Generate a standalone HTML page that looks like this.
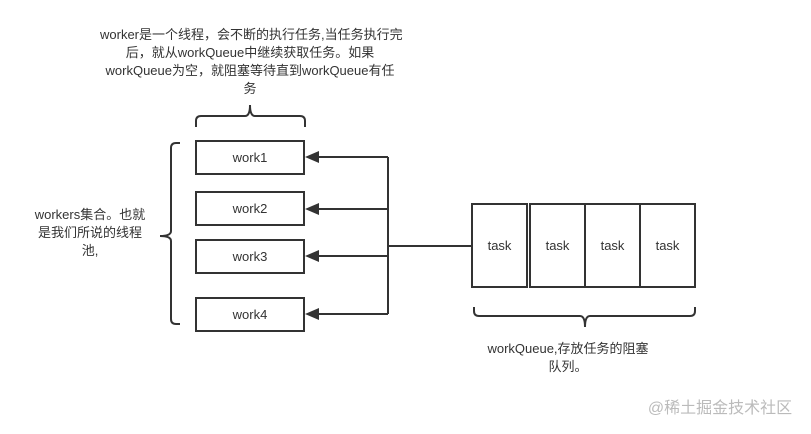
<!DOCTYPE html>
<html><head><meta charset="utf-8"><style>
body{margin:0;width:811px;height:434px;background:#fff;position:relative;overflow:hidden;font-family:"Liberation Sans","Noto Sans CJK SC",sans-serif;color:#333}
.t{position:absolute;font-size:13px;line-height:18px;text-align:center;white-space:nowrap}
.b{position:absolute;border:2px solid #333;box-sizing:border-box;background:#fff;display:flex;align-items:center;justify-content:center;font-size:13px}
</style></head><body>
<div class="t" style="left:100px;top:26px;width:300px">worker是一个线程，会不断的执行任务,当任务执行完<br>后，就从workQueue中继续获取任务。如果<br>workQueue为空，就阻塞等待直到workQueue有任<br>务</div>
<div class="t" style="left:20px;top:206px;width:140px">workers集合。也就<br>是我们所说的线程<br>池,</div>
<div class="t" style="left:468px;top:340px;width:200px">workQueue,存放任务的阻塞<br>队列。</div>
<div class="t" style="left:640px;top:400px;width:160px;font-size:16px;color:#bbb">@稀土掘金技术社区</div>
<svg width="811" height="434" style="position:absolute;left:0;top:0" fill="none" stroke="#333" stroke-width="2">
<path d="M196 127 v-6 q0-5 5-5 h44 q5 0 5-11 q0 11 5 11 h45 q5 0 5 5 v6"/>
<path d="M180 143 h-4 q-5 0-5 5 v83 q0 5-11 5 q11 0 11 5 v78 q0 5 5 5 h4"/>
<path d="M474 307 v4 q0 5 5 5 h101 q5 0 5 11 q0-11 5-11 h100 q5 0 5-5 v-4"/>
<path d="M388 157 V314 M388 246 H472 M388 157 H318 M388 209 H318 M388 256 H318 M388 314 H318"/>
<g fill="#333" stroke="none">
<path d="M305 157 l14-6 v12z"/><path d="M305 209 l14-6 v12z"/><path d="M305 256 l14-6 v12z"/><path d="M305 314 l14-6 v12z"/>
</g>
</svg>
<div class="b" style="left:195px;top:140px;width:110px;height:35px">work1</div>
<div class="b" style="left:195px;top:191px;width:110px;height:35px">work2</div>
<div class="b" style="left:195px;top:239px;width:110px;height:35px">work3</div>
<div class="b" style="left:195px;top:297px;width:110px;height:35px">work4</div>
<div class="b" style="left:471px;top:203px;width:57px;height:85px">task</div>
<div class="b" style="left:529px;top:203px;width:57px;height:85px">task</div>
<div class="b" style="left:584px;top:203px;width:57px;height:85px">task</div>
<div class="b" style="left:639px;top:203px;width:57px;height:85px">task</div>
</body></html>
